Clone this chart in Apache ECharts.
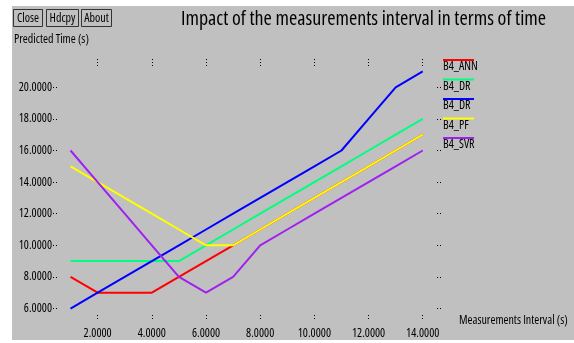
<!DOCTYPE html>
<html>
<head>
<meta charset="utf-8">
<script src="https://cdn.jsdelivr.net/npm/echarts@6/dist/echarts.min.js"></script>
<style>
  body { margin: 0; background: #fff; }
  #main { position: absolute; left: 12px; top: 6px; width: 562px; height: 334px; }
</style>
</head>
<body>
<div id="main"></div>
<script>
// measurement interval (s)
var intervals = [1, 2, 3, 4, 5, 6, 7, 8, 9, 10, 11, 12, 13, 14];
// predicted time (s) per model
var b4Ann = [8, 7, 7, 7, 8, 9, 10, 11, 12, 13, 14, 15, 16, 17];
var b4DrGreen = [9, 9, 9, 9, 9, 10, 11, 12, 13, 14, 15, 16, 17, 18];
var b4DrBlue = [6, 7, 8, 9, 10, 11, 12, 13, 14, 15, 16, 18, 20, 21];
var b4Pf = [15, 14, 13, 12, 11, 10, 10, 11, 12, 13, 14, 15, 16, 17];
var b4Svr = [16, 14, 12, 10, 8, 7, 8, 10, 11, 12, 13, 14, 15, 16];
var xTicks = [2, 4, 6, 8, 10, 12, 14];
var yTicks = [6, 8, 10, 12, 14, 16, 18, 20];
var seriesNames = ['B4_ANN', 'B4_DR', 'B4_DR ', 'B4_PF', 'B4_SVR'];

// narrow font: 'condensed' goes in the weight slot of the canvas font string
var FONT = "'Open Sans'";
var NARROW = 'condensed';

function pairs(vals) {
  return intervals.map(function (x, i) { return [x, vals[i]]; });
}

function lineSeries(name, vals, color) {
  return {
    name: name,
    type: 'line',
    data: pairs(vals),
    symbol: 'none',
    color: color,
    lineStyle: { width: 2, color: color },
    animation: false
  };
}

function button(x, w, label) {
  return {
    type: 'group',
    left: x,
    top: 3,
    children: [
      { type: 'rect', shape: { x: 0, y: 0, width: w, height: 17 },
        style: { fill: '#c0c0c0', stroke: '#333', lineWidth: 1 } },
      { type: 'text', x: w / 2, y: 9,
        style: { text: label, fill: '#000', font: NARROW + ' 12px ' + FONT, align: 'center', verticalAlign: 'middle' } }
    ]
  };
}

var tickStyle = { color: '#000', width: 1, type: [1, 2] };

var myChart = echarts.init(document.getElementById('main'));
var option = {
  backgroundColor: '#c0c0c0',
  animation: false,
  title: {
    text: 'Impact of the measurements interval in terms of time',
    left: 169,
    top: 3,
    padding: 0,
    textStyle: { fontFamily: FONT, fontWeight: NARROW, fontSize: 20, color: '#000' }
  },
  grid: { left: 45, top: 56, width: 382, height: 256, outerBoundsMode: 'none' },
  legend: {
    data: seriesNames,
    orient: 'vertical',
    left: 431,
    top: 53,
    padding: 0,
    // line on top of the item box, label sits below it
    icon: 'path://M0,0H31V2H0Z M0,16H0.01V15.99H0Z',
    itemWidth: 31,
    itemHeight: 16,
    itemGap: 3.5,
    itemStyle: { borderWidth: 0 },
    selectedMode: false,
    formatter: function (n) { return n.trim(); },
    textStyle: { fontFamily: FONT, fontWeight: NARROW, fontSize: 12, color: '#000', padding: [0, 0, 0, -36] }
  },
  xAxis: [{
    type: 'value',
    min: 0.5,
    max: 14.6,
    position: 'bottom',
    offset: -3,
    name: 'Measurements Interval (s)',
    nameLocation: 'end',
    nameGap: 20,
    nameTextStyle: { fontFamily: FONT, fontWeight: NARROW, fontSize: 12, color: '#000', verticalAlign: 'top' },
    axisLine: { show: false },
    splitLine: { show: false },
    axisTick: { show: true, length: 6, lineStyle: tickStyle, customValues: xTicks },
    axisLabel: {
      fontFamily: FONT, fontWeight: NARROW, fontSize: 12, color: '#000', margin: 13,
      customValues: xTicks,
      formatter: function (v) { return v.toFixed(4); }
    }
  }, {
    type: 'value',
    min: 0.5,
    max: 14.6,
    position: 'top',
    offset: -4,
    axisLine: { show: false },
    splitLine: { show: false },
    axisTick: { show: true, length: 7, lineStyle: tickStyle, customValues: xTicks },
    axisLabel: { show: false }
  }],
  yAxis: [{
    type: 'value',
    min: 5.4,
    max: 21.6,
    position: 'left',
    axisLine: { show: false },
    splitLine: { show: false },
    axisTick: { show: true, length: 4, lineStyle: tickStyle, customValues: yTicks },
    axisLabel: {
      fontFamily: FONT, fontWeight: NARROW, fontSize: 12, color: '#000', margin: 5,
      customValues: yTicks,
      formatter: function (v) { return v.toFixed(4); }
    }
  }, {
    type: 'value',
    min: 5.4,
    max: 21.6,
    position: 'right',
    offset: -2,
    axisLine: { show: false },
    splitLine: { show: false },
    axisTick: { show: true, length: 4, lineStyle: tickStyle, customValues: yTicks },
    axisLabel: { show: false }
  }],
  graphic: [
    button(1, 29, 'Close'),
    button(34, 32, 'Hdcpy'),
    button(69, 30, 'About'),
    {
      type: 'text', left: 2, top: 28,
      style: { text: 'Predicted Time (s)', fill: '#000', font: NARROW + ' 12px ' + FONT }
    }
  ],
  series: [
    lineSeries(seriesNames[0], b4Ann, '#ff0000'),
    lineSeries(seriesNames[1], b4DrGreen, '#00ff7f'),
    lineSeries(seriesNames[2], b4DrBlue, '#0000ff'),
    lineSeries(seriesNames[3], b4Pf, '#ffff00'),
    lineSeries(seriesNames[4], b4Svr, '#a020f0')
  ]
};
myChart.setOption(option);
window.onresize = myChart.resize;
</script>
</body>
</html>
